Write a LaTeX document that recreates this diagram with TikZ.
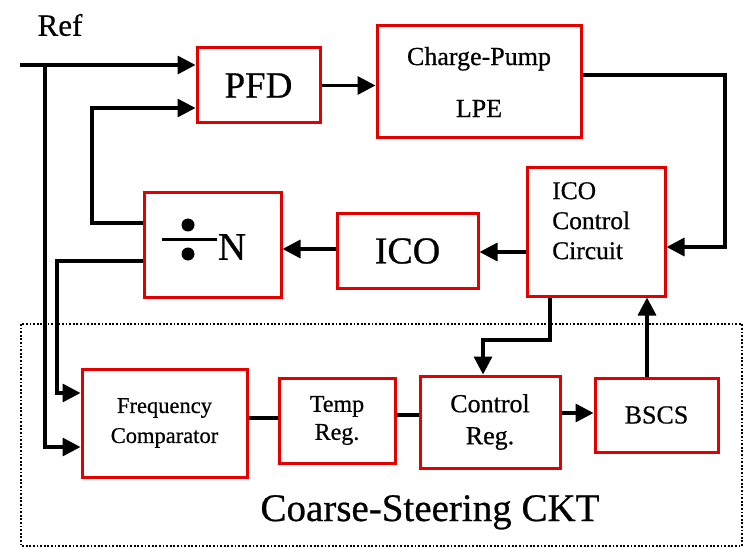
\documentclass[tikz,border=0pt]{standalone}
\usepackage{fontspec}
\setmainfont[FakeBold=0.6]{Liberation Serif}
\usetikzlibrary{arrows.meta,calc}
\begin{document}
\begin{tikzpicture}[x=1pt,y=-1pt,
  blk/.style={draw=red!90!black, line width=3pt, fill=white, inner sep=0pt, align=center},
  wire/.style={line width=3.4pt},
  arr/.style={wire, -{Triangle[length=18pt,width=18pt]}}
]
\useasboundingbox (0,0) rectangle (747,548);
% dotted frame
\draw[line width=2pt, dash pattern=on 1.8pt off 1.8pt] (21,324) rectangle (742,546);
\node[font=\fontsize{39}{40}\selectfont, anchor=base] (cktlabel) at (430,521) {Coarse-Steering CKT};
\node[font=\fontsize{31}{32}\selectfont] (reflabel) at (60,25) {Ref};

% blocks
\node[blk, minimum width=123, minimum height=75, font=\fontsize{37}{38}\selectfont] (PFD) at (258.5,85.5) {PFD};
\node[blk, minimum width=204, minimum height=112, font=\fontsize{26}{52}\selectfont] (CP) at (479,82) {Charge-Pump\\LPE};
\node[blk, minimum width=138, minimum height=128] (ICC) at (596,232) {};
\node[font=\fontsize{25.5}{30}\selectfont, align=left, anchor=north west, inner sep=0pt] (ICCtext) at (552,182) {ICO\\Control\\Circuit};
\node[blk, minimum width=141, minimum height=74, font=\fontsize{38}{40}\selectfont] (ICO) at (407.5,251) {ICO};
\node[blk, minimum width=137, minimum height=104] (DIV) at (212.5,245) {};
\node[font=\fontsize{39}{40}\selectfont, inner sep=0pt] (Ntext) at (232,247) {N};
\draw[line width=3pt] (162,240) -- (217,240);
\fill (188,225) circle (6.5);
\fill (188,254) circle (6.5);
\node[blk, minimum width=165, minimum height=108, font=\fontsize{22.5}{30}\selectfont] (FC) at (164.5,423) {Frequency\\Comparator};
\node[blk, minimum width=116, minimum height=85, font=\fontsize{24}{28}\selectfont] (TR) at (337,420.5) {Temp\\Reg.};
\node[blk, minimum width=140, minimum height=92, font=\fontsize{26}{32}\selectfont] (CR) at (490,422) {Control\\Reg.};
\node[blk, minimum width=123, minimum height=74, font=\fontsize{26}{30}\selectfont] (BSCS) at (656.5,415) {BSCS};

% coordinates
\coordinate (refin) at (20,65);
\coordinate (refbr) at (45,65);
\coordinate (fbA) at (92,223);
\coordinate (fbB) at (57,261);
\coordinate (cpR) at (725,75);
\coordinate (iccB) at (550,340);
\coordinate (crT) at (483,340);

% connectors
\draw[arr] (refin) -- (PFD.west |- refin);
\draw[arr] (refbr) -- (45,447) -- (FC.west |- 0,447);
\draw[arr] (DIV.west |- fbA) -- (fbA) -- (92,108) -- (PFD.west |- 0,108);
\draw[arr] (DIV.west |- fbB) -- (fbB) -- (57,393) -- (FC.west |- 0,393);
\draw[arr] (PFD.east) -- (CP.west |- PFD.east);
\draw[arr] (CP.east |- cpR) -- (cpR) -- (725,247) -- (ICC.east |- 0,247);
\draw[arr] (ICC.west |- 0,252) -- (ICO.east |- 0,252);
\draw[arr] (ICO.west |- 0,249) -- (DIV.east |- 0,249);
\draw[arr] (ICC.south -| iccB) -- (iccB) -- (crT) -- (CR.north -| crT);
\draw[arr] (BSCS.north -| 647,0) -- (ICC.south -| 647,0);
\draw[wire] (FC.east |- 0,418) -- (TR.west |- 0,418);
\draw[wire] (TR.east |- 0,415) -- (CR.west |- 0,415);
\draw[arr] (CR.east |- 0,413) -- (BSCS.west |- 0,413);
\end{tikzpicture}
\end{document}
